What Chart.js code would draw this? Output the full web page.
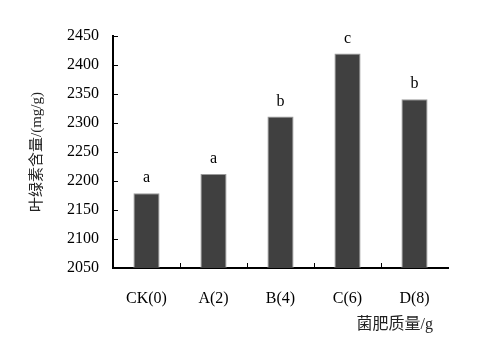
<!DOCTYPE html>
<html>
<head>
<meta charset="utf-8">
<script src="https://cdn.jsdelivr.net/npm/chart.js@4"></script>
<style>
html,body{margin:0;padding:0;background:#fff;}
#wrap{width:495px;height:358px;position:relative;}
</style>
</head>
<body>
<div id="wrap"><canvas id="c" width="495" height="358"></canvas></div>
<script>
const categories = ['CK(0)', 'A(2)', 'B(4)', 'C(6)', 'D(8)'];
const chlorophyll = [2179, 2212, 2311, 2420, 2341];
const sigLetters = ['a', 'a', 'b', 'c', 'b'];
const yTitle = '叶绿素含量/(mg/g)';
const xTitle = '菌肥质量/g';

const serif = '"Liberation Serif", "Noto Sans CJK SC", serif';

const decor = {
  id: 'decor',
  afterDatasetsDraw(chart) {
    const ctx = chart.ctx;
    const ca = chart.chartArea;
    const ys = chart.scales.y, xs = chart.scales.x;
    ctx.save();
    ctx.strokeStyle = '#000';
    ctx.lineWidth = 1;
    ys.ticks.forEach(t => {
      const py = Math.round(ys.getPixelForValue(t.value)) + 0.5;
      ctx.beginPath();
      ctx.moveTo(ca.left, py);
      ctx.lineTo(ca.left + 5, py);
      ctx.stroke();
    });
    for (let i = 0; i < categories.length - 1; i++) {
      const px = Math.round((xs.getPixelForValue(i) + xs.getPixelForValue(i + 1)) / 2) + 0.5;
      ctx.beginPath();
      ctx.moveTo(px, ca.bottom);
      ctx.lineTo(px, ca.bottom - 5);
      ctx.stroke();
    }
    const meta = chart.getDatasetMeta(0);
    ctx.fillStyle = '#000';
    ctx.font = '16px ' + serif;
    ctx.textAlign = 'center';
    ctx.textBaseline = 'middle';
    meta.data.forEach((bar, i) => {
      ctx.fillText(sigLetters[i], bar.x, bar.y - 15);
    });
    ctx.fillStyle = '#222';
    ctx.font = '16px ' + serif;
    ctx.textAlign = 'right';
    ctx.fillText(xTitle, ca.right - 15, 325);
    ctx.font = '15px ' + serif;
    ctx.translate(37, (ca.top + ca.bottom) / 2);
    ctx.rotate(-Math.PI / 2);
    ctx.textAlign = 'center';
    ctx.fillText(yTitle, 0, 0);
    ctx.restore();
  }
};

new Chart(document.getElementById('c'), {
  type: 'bar',
  data: {
    labels: categories,
    datasets: [{
      data: chlorophyll,
      backgroundColor: '#404040',
      borderColor: '#9a9a9a',
      borderWidth: 1,
      borderSkipped: 'bottom',
      barPercentage: 0.39,
      categoryPercentage: 1
    }]
  },
  options: {
    responsive: false,
    animation: false,
    devicePixelRatio: 1,
    layout: { padding: { top: 36, right: 47, left: 0, bottom: 0 } },
    plugins: { legend: { display: false }, tooltip: { enabled: false } },
    scales: {
      x: {
        grid: { display: false },
        border: { display: true, color: '#000', width: 2 },
        ticks: { color: '#000', font: { family: serif, size: 16 }, padding: 13 },
        afterFit(s) { s.height = 90; }
      },
      y: {
        min: 2050, max: 2450,
        grid: { display: false },
        border: { display: true, color: '#000', width: 2 },
        ticks: { stepSize: 50, color: '#000', font: { family: serif, size: 16 }, padding: 6,
                 callback: v => String(v) },
        afterFit(s) { s.width = 113; }
      }
    }
  },
  plugins: [decor]
});
</script>
</body>
</html>
